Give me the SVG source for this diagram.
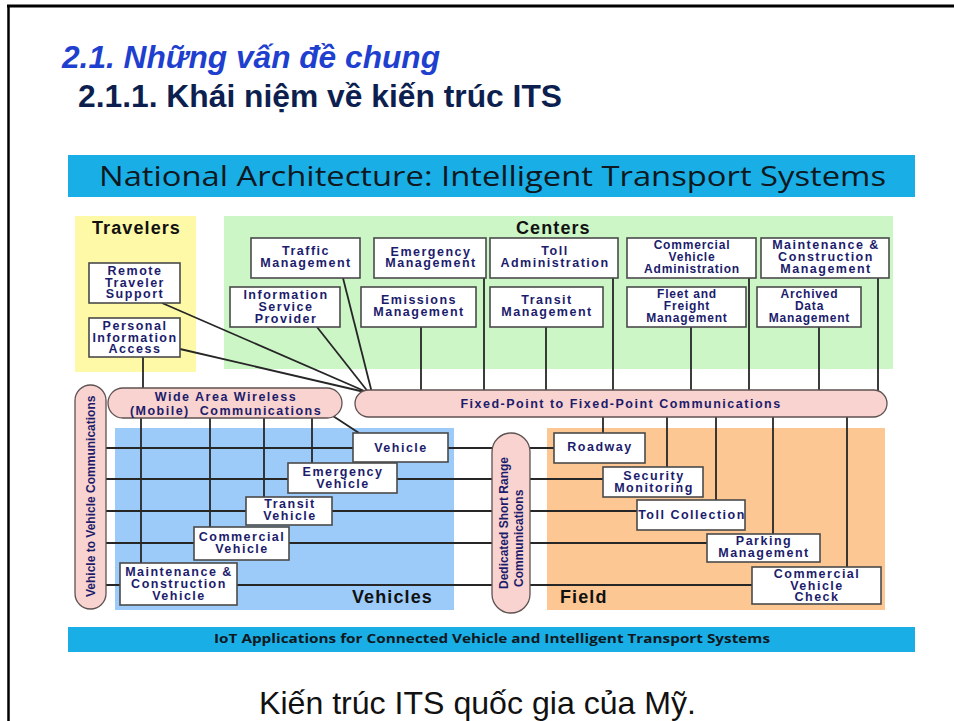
<svg xmlns="http://www.w3.org/2000/svg" width="954" height="721" viewBox="0 0 954 721">
  <style>
    .h1 { font: italic bold 32px "Liberation Sans", Arial, sans-serif; fill: #1f3fcf; }
    .h2 { font: bold 32px "Liberation Sans", Arial, sans-serif; fill: #0d1f4f; }
    .cap { font: 32px "Liberation Sans", Arial, sans-serif; fill: #111; }
    .banner { fill: #1aaee6; }
    .bt { font: 27px "Open Sans", "Liberation Sans", sans-serif; fill: #0e1820; }
    .bt2 { font: bold 13px "Open Sans", "Liberation Sans", sans-serif; fill: #0e1820; }
    .sec { font: bold 18px "Liberation Sans", Arial, sans-serif; fill: #111; letter-spacing: 1.1px; }
    .box { fill: #fff; stroke: #4a4a4a; stroke-width: 1.6; }
    .pill { fill: #f9d3cf; stroke: #5e5252; stroke-width: 1.3; }
    .n { font: bold 12.5px "Liberation Sans", Arial, sans-serif; fill: #1c1c6c; text-anchor: middle; letter-spacing: 1.5px; }
    .nn { font: bold 12px "Liberation Sans", Arial, sans-serif; fill: #1c1c6c; text-anchor: middle; letter-spacing: 0.8px; }
    .p { font: bold 12px "Liberation Sans", Arial, sans-serif; fill: #1c1c6c; }
    .ln { stroke: #262626; stroke-width: 1.8; fill: none; }
  </style>

  <!-- slide frame -->
  <rect x="0" y="0" width="954" height="721" fill="#fff"/>
  <line x1="7" y1="6" x2="954" y2="6" stroke="#000" stroke-width="3"/>
  <line x1="8.5" y1="5" x2="8.5" y2="721" stroke="#000" stroke-width="2.5"/>

  <!-- headings -->
  <text class="h1" x="62" y="68" textLength="378" lengthAdjust="spacingAndGlyphs">2.1. Những vấn đề chung</text>
  <text class="h2" x="78" y="107" textLength="484" lengthAdjust="spacingAndGlyphs">2.1.1. Khái niệm về kiến trúc ITS</text>

  <!-- title banner -->
  <rect class="banner" x="68" y="155" width="847" height="42"/>
  <text class="bt" x="99" y="186" textLength="787" lengthAdjust="spacingAndGlyphs">National Architecture: Intelligent Transport Systems</text>

  <!-- area panels -->
  <g id="panels">
    <rect x="75" y="216" width="121" height="156" fill="#fdf9a6"/>
    <rect x="224" y="216" width="669" height="153" fill="#ccf6c6"/>
    <rect x="115" y="428" width="339" height="182" fill="#9ccbf9"/>
    <rect x="547" y="428" width="338" height="182" fill="#fcc792"/>
    <text class="sec" x="92" y="234">Travelers</text>
    <text class="sec" x="516" y="234">Centers</text>
    <text class="sec" x="352" y="603">Vehicles</text>
    <text class="sec" x="560" y="603">Field</text>
  </g>

  <!-- connectors -->
  <g id="connectors" class="ln">
    <!-- into the fixed-point bus from travelers and centers -->
    <line x1="162" y1="303" x2="369" y2="393"/>
    <line x1="180" y1="349" x2="369" y2="393"/>
    <line x1="317" y1="327" x2="369" y2="393"/>
    <line x1="343" y1="278" x2="372" y2="393"/>
    <line x1="143" y1="357" x2="143" y2="390"/>
    <line x1="421" y1="327" x2="421" y2="392"/>
    <line x1="484" y1="278" x2="484" y2="392"/>
    <line x1="546" y1="327" x2="546" y2="392"/>
    <line x1="613" y1="278" x2="613" y2="392"/>
    <line x1="691" y1="327" x2="691" y2="392"/>
    <line x1="749" y1="278" x2="749" y2="392"/>
    <line x1="819" y1="327" x2="819" y2="392"/>
    <line x1="878" y1="278" x2="878" y2="392"/>
    <!-- fixed-point bus down to field -->
    <line x1="603" y1="415" x2="603" y2="433"/>
    <line x1="667" y1="415" x2="667" y2="467"/>
    <line x1="716" y1="415" x2="716" y2="500"/>
    <line x1="773" y1="415" x2="773" y2="534"/>
    <line x1="847" y1="415" x2="847" y2="567"/>
    <!-- wide area wireless down to vehicles -->
    <line x1="333" y1="416" x2="359" y2="433"/>
    <line x1="141" y1="416" x2="141" y2="563"/>
    <line x1="210" y1="416" x2="210" y2="527"/>
    <line x1="264" y1="416" x2="264" y2="497"/>
    <line x1="312" y1="416" x2="312" y2="463"/>
    <!-- vehicle to vehicle / short range rows -->
    <line x1="104" y1="448" x2="554" y2="448"/>
    <line x1="104" y1="479" x2="603" y2="479"/>
    <line x1="104" y1="511" x2="637" y2="511"/>
    <line x1="104" y1="543" x2="707" y2="543"/>
    <line x1="104" y1="585" x2="752" y2="585"/>
  </g>

  <!-- communication buses -->
  <g id="v2v">
    <rect class="pill" x="75" y="385" width="31" height="224" rx="15.5"/>
    <text class="p" transform="translate(94.5,597) rotate(-90)">Vehicle to Vehicle Communications</text>
  </g>
  <g id="wide-area-wireless">
    <rect class="pill" x="108" y="388" width="234" height="30" rx="15"/>
    <text class="n" x="226" y="400.5">Wide Area Wireless</text>
    <text class="n" x="226" y="415" xml:space="preserve">(Mobile)  Communications</text>
  </g>
  <g id="fixed-point">
    <rect class="pill" x="355" y="390" width="532" height="27" rx="13.5"/>
    <text class="n" x="621" y="408">Fixed-Point to Fixed-Point Communications</text>
  </g>
  <g id="dsrc">
    <rect class="pill" x="492" y="433" width="38" height="180" rx="19"/>
    <text class="p" transform="translate(507.5,589) rotate(-90)">Dedicated Short Range</text>
    <text class="p" transform="translate(522.5,587) rotate(-90)">Communications</text>
  </g>

  <!-- travelers -->
  <g id="remote-traveler-support">
    <rect class="box" x="89" y="263" width="91" height="40"/>
    <text class="n" x="135" y="275">Remote</text>
    <text class="n" x="135" y="286.5">Traveler</text>
    <text class="n" x="135" y="298">Support</text>
  </g>
  <g id="personal-information-access">
    <rect class="box" x="89" y="318" width="91" height="39"/>
    <text class="n" x="135" y="330">Personal</text>
    <text class="n" x="135" y="341.5">Information</text>
    <text class="n" x="135" y="353">Access</text>
  </g>

  <!-- centers -->
  <g id="traffic-management">
    <rect class="box" x="251" y="238" width="109" height="40"/>
    <text class="n" x="306" y="255">Traffic</text>
    <text class="n" x="306" y="267">Management</text>
  </g>
  <g id="information-service-provider">
    <rect class="box" x="230" y="287" width="110" height="40"/>
    <text class="n" x="286" y="299">Information</text>
    <text class="n" x="286" y="311">Service</text>
    <text class="n" x="286" y="322.5">Provider</text>
  </g>
  <g id="emergency-management">
    <rect class="box" x="374" y="238" width="112" height="40"/>
    <text class="n" x="431" y="255.5">Emergency</text>
    <text class="n" x="431" y="267">Management</text>
  </g>
  <g id="emissions-management">
    <rect class="box" x="361" y="287" width="115" height="40"/>
    <text class="n" x="419" y="304">Emissions</text>
    <text class="n" x="419" y="316">Management</text>
  </g>
  <g id="toll-administration">
    <rect class="box" x="490" y="238" width="128" height="40"/>
    <text class="n" x="555" y="255">Toll</text>
    <text class="n" x="555" y="267">Administration</text>
  </g>
  <g id="transit-management">
    <rect class="box" x="490" y="287" width="113" height="40"/>
    <text class="n" x="547" y="304">Transit</text>
    <text class="n" x="547" y="316">Management</text>
  </g>
  <g id="commercial-vehicle-administration">
    <rect class="box" x="627" y="238" width="129" height="40"/>
    <text class="nn" x="692" y="249">Commercial</text>
    <text class="nn" x="692" y="261">Vehicle</text>
    <text class="nn" x="692" y="273">Administration</text>
  </g>
  <g id="maintenance-construction-management">
    <rect class="box" x="761" y="238" width="128" height="40"/>
    <text class="n" x="826" y="249">Maintenance &amp;</text>
    <text class="n" x="826" y="261">Construction</text>
    <text class="n" x="826" y="273">Management</text>
  </g>
  <g id="fleet-freight-management">
    <rect class="box" x="627" y="287" width="119" height="40"/>
    <text class="nn" x="687" y="298">Fleet and</text>
    <text class="nn" x="687" y="310">Freight</text>
    <text class="nn" x="687" y="322">Management</text>
  </g>
  <g id="archived-data-management">
    <rect class="box" x="757" y="287" width="104" height="40"/>
    <text class="nn" x="809.5" y="298">Archived</text>
    <text class="nn" x="809.5" y="310">Data</text>
    <text class="nn" x="809.5" y="322">Management</text>
  </g>

  <!-- vehicles -->
  <g id="vehicle">
    <rect class="box" x="353" y="433" width="95" height="29"/>
    <text class="n" x="401" y="452">Vehicle</text>
  </g>
  <g id="emergency-vehicle">
    <rect class="box" x="288" y="463" width="109" height="30"/>
    <text class="n" x="343" y="475.5">Emergency</text>
    <text class="n" x="343" y="488">Vehicle</text>
  </g>
  <g id="transit-vehicle">
    <rect class="box" x="246" y="497" width="86" height="28"/>
    <text class="n" x="290" y="508">Transit</text>
    <text class="n" x="290" y="520">Vehicle</text>
  </g>
  <g id="commercial-vehicle">
    <rect class="box" x="194" y="527" width="95" height="33"/>
    <text class="n" x="242" y="541">Commercial</text>
    <text class="n" x="242" y="553">Vehicle</text>
  </g>
  <g id="maintenance-construction-vehicle">
    <rect class="box" x="120" y="563" width="117" height="42"/>
    <text class="n" x="179" y="576">Maintenance &amp;</text>
    <text class="n" x="179" y="588">Construction</text>
    <text class="n" x="179" y="600">Vehicle</text>
  </g>

  <!-- field -->
  <g id="roadway">
    <rect class="box" x="554" y="433" width="91" height="30"/>
    <text class="n" x="600" y="451">Roadway</text>
  </g>
  <g id="security-monitoring">
    <rect class="box" x="603" y="467" width="100" height="30"/>
    <text class="n" x="654" y="479.5">Security</text>
    <text class="n" x="654" y="491.5">Monitoring</text>
  </g>
  <g id="toll-collection">
    <rect class="box" x="637" y="500" width="108" height="30"/>
    <text class="n" x="692" y="518.5">Toll Collection</text>
  </g>
  <g id="parking-management">
    <rect class="box" x="707" y="534" width="113" height="28"/>
    <text class="n" x="764" y="545">Parking</text>
    <text class="n" x="764" y="556.5">Management</text>
  </g>
  <g id="commercial-vehicle-check">
    <rect class="box" x="752" y="567" width="129" height="37"/>
    <text class="n" x="817" y="578">Commercial</text>
    <text class="n" x="817" y="590">Vehicle</text>
    <text class="n" x="817" y="601">Check</text>
  </g>

  <!-- footer banner -->
  <rect class="banner" x="68" y="627" width="847" height="25"/>
  <text class="bt2" x="214" y="643" textLength="556" lengthAdjust="spacingAndGlyphs">IoT Applications for Connected Vehicle and Intelligent Transport Systems</text>

  <!-- caption -->
  <text class="cap" x="259" y="714" textLength="437" lengthAdjust="spacingAndGlyphs">Kiến trúc ITS quốc gia của Mỹ.</text>
</svg>
